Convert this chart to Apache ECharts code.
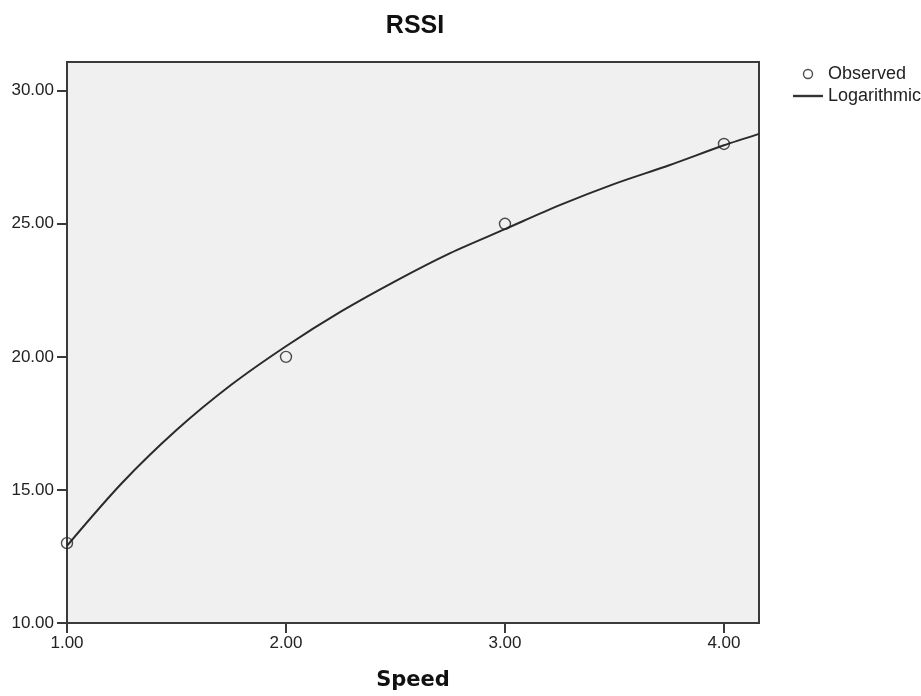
<!DOCTYPE html>
<html>
<head>
<meta charset="utf-8">
<script src="https://cdn.jsdelivr.net/npm/echarts@6/dist/echarts.min.js"></script>
<style>
  html, body { margin: 0; padding: 0; background: #fff; }
  #chart { width: 921px; height: 696px; }
</style>
</head>
<body>
<div id="chart"></div>
<script>
// Observed points
const observedX = [1, 2, 3, 4];
const observedY = [13, 20, 25, 28];
// Logarithmic fit curve
const curveX = [1.00, 1.25, 1.50, 1.75, 2.00, 2.25, 2.50, 2.75, 3.00, 3.25, 3.50, 3.75, 4.00, 4.16];
const curveY = [12.9, 15.25, 17.25, 18.95, 20.4, 21.7, 22.85, 23.9, 24.8, 25.7, 26.5, 27.2, 27.95, 28.38];
const xTicks = [1, 2, 3, 4];
const yTicks = [10, 15, 20, 25, 30];
const seriesNames = ['Observed', 'Logarithmic'];

const chart = echarts.init(document.getElementById('chart'), null, { renderer: 'canvas' });
const fmt = v => Number(v).toFixed(2);

chart.setOption({
  animation: false,
  backgroundColor: '#ffffff',
  title: {
    text: 'RSSI',
    left: 410, top: 9, textAlign: 'center',
    textStyle: { fontFamily: 'Liberation Sans, Arial', fontWeight: 'bold', fontSize: 25, color: '#111' }
  },
  legend: {
    orient: 'vertical',
    left: 793, top: 65, padding: 0,
    itemWidth: 30, itemHeight: 9, itemGap: 4,
    textStyle: { fontFamily: 'Liberation Sans, Arial', fontSize: 18, lineHeight: 18, color: '#222' },
    data: [
      { name: seriesNames[0], icon: 'circle', itemStyle: { color: 'transparent', borderColor: '#222', borderWidth: 1.4 } },
      { name: seriesNames[1], icon: 'path://M0,0L30,0L30,2.4L0,2.4Z', itemStyle: { color: '#333', borderWidth: 0 } }
    ]
  },
  grid: {
    left: 67, right: 162, top: 62, bottom: 72,
    show: true, backgroundColor: '#f0f0f0', borderColor: '#3a3a3a', borderWidth: 2
  },
  xAxis: {
    type: 'value', min: 1, max: 4.16,
    name: 'Speed', nameLocation: 'middle', nameGap: 47,
    nameTextStyle: { fontFamily: 'DejaVu Sans', fontWeight: 'bold', fontSize: 21, color: '#111' },
    axisLine: { show: true, lineStyle: { color: '#3a3a3a', width: 2 } },
    axisTick: { show: true, length: 10, customValues: xTicks, lineStyle: { color: '#3a3a3a', width: 2 } },
    axisLabel: { customValues: xTicks, formatter: fmt, margin: 12, fontFamily: 'Liberation Sans, Arial', fontSize: 17, color: '#222' },
    splitLine: { show: false }
  },
  yAxis: {
    type: 'value', min: 10, max: 31.08,
    axisLine: { show: true, lineStyle: { color: '#3a3a3a', width: 2 } },
    axisTick: { show: true, length: 10, customValues: yTicks, lineStyle: { color: '#3a3a3a', width: 2 } },
    axisLabel: { customValues: yTicks, formatter: fmt, margin: 13, fontFamily: 'Liberation Sans, Arial', fontSize: 17, color: '#222' },
    splitLine: { show: false }
  },
  series: [
    {
      name: seriesNames[1], type: 'line', smooth: 0.3, showSymbol: false, symbol: 'none',
      data: curveX.map((x, i) => [x, curveY[i]]),
      lineStyle: { color: '#2a2a2a', width: 2 },
      itemStyle: { color: '#333' },
      z: 2
    },
    {
      name: seriesNames[0], type: 'scatter', symbol: 'circle', symbolSize: 11,
      data: observedX.map((x, i) => [x, observedY[i]]),
      itemStyle: { color: 'transparent', borderColor: '#222', borderWidth: 1.4 },
      z: 3
    }
  ]
});
</script>
</body>
</html>
